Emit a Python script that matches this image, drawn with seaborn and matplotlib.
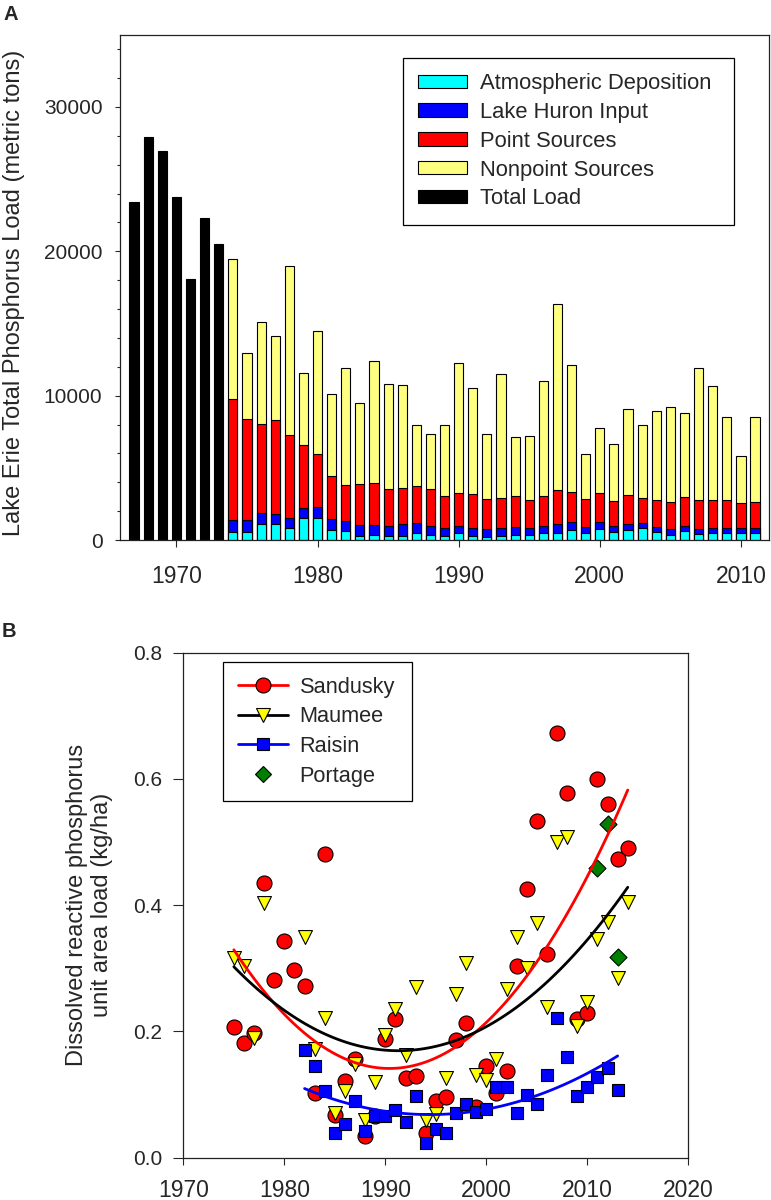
import numpy as np
import matplotlib
matplotlib.use('Agg')
import matplotlib.pyplot as plt
import seaborn as sns
from matplotlib.lines import Line2D
from matplotlib.patches import Patch
from matplotlib.ticker import MultipleLocator

# ---- Panel A: Lake Erie total phosphorus load (metric tons) ----
early_years = list(range(1967, 1974))
early_total = [23400, 27950, 26950, 23750, 18100, 22300, 20500]

years = list(range(1974, 2012))
atmospheric = [530, 530, 1110, 1110, 850, 1500, 1500, 690, 640, 300,
               350, 280, 300, 460, 350, 300, 460, 300, 230, 300,
               350, 350, 510, 510, 670, 460, 785, 530, 670, 810,
               530, 350, 600, 415, 460, 460, 460, 460]
lake_huron = [855, 855, 760, 670, 695, 740, 810, 740, 675, 740,
              690, 710, 785, 695, 595, 530, 485, 510, 510, 510,
              550, 505, 480, 575, 555, 460, 440, 415, 415, 365,
              350, 390, 370, 345, 370, 370, 370, 370]
point_src = [8375, 6995, 6140, 6530, 5725, 4340, 3650, 2980, 2495, 2815,
             2930, 2560, 2485, 2565, 2565, 2195, 2285, 2375, 2075, 2075,
             2145, 1915, 2035, 2375, 2100, 1940, 2005, 1775, 2010, 1710,
             1890, 1890, 1985, 2010, 1960, 1940, 1755, 1800]
nonpoint = [9720, 4590, 7070, 5840, 11705, 4960, 8540, 5680, 8080, 5615,
            8450, 7280, 7190, 4240, 3830, 4965, 9050, 7315, 4525, 8635,
            4105, 4410, 7965, 12860, 8815, 3120, 4550, 3930, 5955, 5075,
            6140, 6600, 5865, 9120, 7880, 5730, 3255, 5900]

source_names = ['Atmospheric Deposition', 'Lake Huron Input', 'Point Sources',
                'Nonpoint Sources', 'Total Load']
source_colors = ['#00FFFF', '#0000FF', '#FF0000', '#FFFF80', '#000000']

# ---- Panel B: dissolved reactive phosphorus unit area load (kg/ha) ----
sandusky_years = list(range(1975, 2015))
sandusky = [0.207, 0.182, 0.197, 0.435, 0.281, 0.343, 0.297, 0.272, 0.103, 0.481,
            0.068, 0.122, 0.156, 0.034, 0.066, 0.188, 0.220, 0.127, 0.130, 0.040,
            0.090, 0.096, 0.186, 0.214, 0.081, 0.145, 0.102, 0.138, 0.304, 0.426,
            0.533, 0.322, 0.673, 0.578, 0.220, 0.230, 0.599, 0.560, 0.473, 0.490]

maumee_years = [1975, 1976, 1977, 1978] + list(range(1982, 2015))
maumee = [0.316, 0.304, 0.189, 0.404, 0.349, 0.172, 0.222, 0.071, 0.105, 0.149,
          0.060, 0.120, 0.194, 0.235, 0.162, 0.271, 0.060, 0.070, 0.126, 0.260,
          0.309, 0.131, 0.123, 0.157, 0.268, 0.350, 0.301, 0.372, 0.238, 0.500,
          0.508, 0.209, 0.246, 0.346, 0.374, 0.284, 0.405]

raisin_years = list(range(1982, 2014))
raisin = [0.171, 0.145, 0.106, 0.040, 0.053, 0.090, 0.043, 0.066, 0.066, 0.075,
          0.057, 0.098, 0.024, 0.045, 0.039, 0.071, 0.085, 0.073, 0.078, 0.112,
          0.112, 0.071, 0.099, 0.085, 0.131, 0.222, 0.159, 0.098, 0.112, 0.128,
          0.142, 0.107]

portage_years = [2011, 2012, 2013]
portage = [0.459, 0.529, 0.318]

sns.set_style('ticks')
plt.rcParams['font.family'] = ['Liberation Sans', 'DejaVu Sans']

fig = plt.figure(figsize=(7.71, 12), dpi=100)
ax_a = fig.add_axes([0.1556, 0.55, 0.842, 0.421])
ax_b = fig.add_axes([0.2378, 0.0352, 0.655, 0.421])

# stacked bars drawn as cumulative tops, tallest layer first
layers = np.cumsum([atmospheric, lake_huron, point_src, nonpoint], axis=0)
for top, color in reversed(list(zip(layers, source_colors[:4]))):
    sns.barplot(x=years, y=top, native_scale=True, orient='x', color=color,
                saturation=1, width=0.65, edgecolor='black', linewidth=0.8,
                errorbar=None, ax=ax_a)
sns.barplot(x=early_years, y=early_total, native_scale=True, orient='x',
            color='black', saturation=1, width=0.65, edgecolor='black',
            linewidth=0.8, errorbar=None, ax=ax_a)

ax_a.set_xlim(1966, 2012)
ax_a.set_ylim(0, 35000)
ax_a.set_xticks([1970, 1980, 1990, 2000, 2010])
ax_a.set_yticks([0, 10000, 20000, 30000])
ax_a.yaxis.set_minor_locator(MultipleLocator(2000))
ax_a.tick_params(axis='y', which='major', length=3.6, width=0.8, labelsize=15, pad=9)
ax_a.tick_params(axis='y', which='minor', length=2.4, width=0.8)
ax_a.tick_params(axis='x', length=4.8, width=0.8, labelsize=16.5, pad=13)
ax_a.set_xlabel('')
ax_a.set_ylabel('Lake Erie Total Phosphorus Load (metric tons)', fontsize=17)
ax_a.yaxis.set_label_coords(-0.146, 0.49)

handles_a = [Patch(facecolor=c, edgecolor='black', linewidth=0.8)
             for c in source_colors]
leg_a = ax_a.legend(handles_a, source_names, loc='upper left', mode='expand',
                    bbox_to_anchor=(0.4356, 0.63, 0.5104, 0.325), borderaxespad=0,
                    fontsize=15.8, handlelength=2.25, handleheight=0.55,
                    handletextpad=0.55, labelspacing=0.36, borderpad=0.7,
                    fancybox=False, framealpha=1, edgecolor='black')
leg_a.get_frame().set_linewidth(0.9)

# scatter points and quadratic fits
sns.scatterplot(x=sandusky_years, y=sandusky, marker='o', s=117, color='#FF0000',
                edgecolor='black', linewidth=0.8, ax=ax_b, zorder=3)
sns.scatterplot(x=maumee_years, y=maumee, marker='v', s=100, color='#FFFF00',
                edgecolor='black', linewidth=0.8, ax=ax_b, zorder=3)
sns.scatterplot(x=raisin_years, y=raisin, marker='s', s=84, color='#0000FF',
                edgecolor='black', linewidth=0.8, ax=ax_b, zorder=3)
sns.scatterplot(x=portage_years, y=portage, marker='D', s=75, color='#007F00',
                edgecolor='black', linewidth=0.8, ax=ax_b, zorder=3)

for xs, ys, c in [(sandusky_years, sandusky, '#FF0000'),
                  (maumee_years, maumee, 'black'),
                  (raisin_years, raisin, '#0000FF')]:
    sns.regplot(x=np.array(xs, dtype=float), y=np.array(ys), order=2, ci=None,
                scatter=False, truncate=True, ax=ax_b,
                line_kws={'color': c, 'linewidth': 2, 'zorder': 4})

ax_b.set_xlim(1970, 2020)
ax_b.set_ylim(0, 0.8)
ax_b.set_xticks([1970, 1980, 1990, 2000, 2010, 2020])
ax_b.set_yticks([0.0, 0.2, 0.4, 0.6, 0.8])
ax_b.set_yticklabels(['0.0', '0.2', '0.4', '0.6', '0.8'])
ax_b.tick_params(axis='y', length=7.2, width=0.8, labelsize=15, pad=8)
ax_b.tick_params(axis='x', length=5, width=0.8, labelsize=16.5, pad=10.5)
ax_b.set_xlabel('')
ax_b.set_ylabel('Dissolved reactive phosphorus\nunit area load (kg/ha)', fontsize=17)
ax_b.yaxis.set_label_coords(-0.139, 0.5)

handles_b = [
    Line2D([], [], color='#FF0000', lw=2, marker='o', markersize=10.8,
           markerfacecolor='#FF0000', markeredgecolor='black', markeredgewidth=0.8),
    Line2D([], [], color='black', lw=2, marker='v', markersize=10,
           markerfacecolor='#FFFF00', markeredgecolor='black', markeredgewidth=0.8),
    Line2D([], [], color='#0000FF', lw=2, marker='s', markersize=9.1,
           markerfacecolor='#0000FF', markeredgecolor='black', markeredgewidth=0.8),
    Line2D([], [], color='none', lw=0, marker='D', markersize=8.6,
           markerfacecolor='#007F00', markeredgecolor='black', markeredgewidth=0.8),
]
leg_b = ax_b.legend(handles_b, ['Sandusky', 'Maumee', 'Raisin', 'Portage'],
                    loc='upper left', mode='expand',
                    bbox_to_anchor=(0.0792, 0.7047, 0.373, 0.2759),
                    borderaxespad=0, fontsize=15.7, handlelength=2.3,
                    handletextpad=0.55, labelspacing=0.4, borderpad=0.65,
                    fancybox=False, framealpha=1, edgecolor='black')
leg_b.get_frame().set_linewidth(0.9)

for ax in (ax_a, ax_b):
    for sp in ax.spines.values():
        sp.set_visible(True)
        sp.set_linewidth(0.9)
        sp.set_color('#222222')

fig.text(3 / 771, 1 - 20 / 1200, 'A', fontsize=14.5, fontweight='bold', va='baseline')
fig.text(2 / 771, 1 - 637 / 1200, 'B', fontsize=14.5, fontweight='bold', va='baseline')

fig.savefig('out.png', dpi=100)
